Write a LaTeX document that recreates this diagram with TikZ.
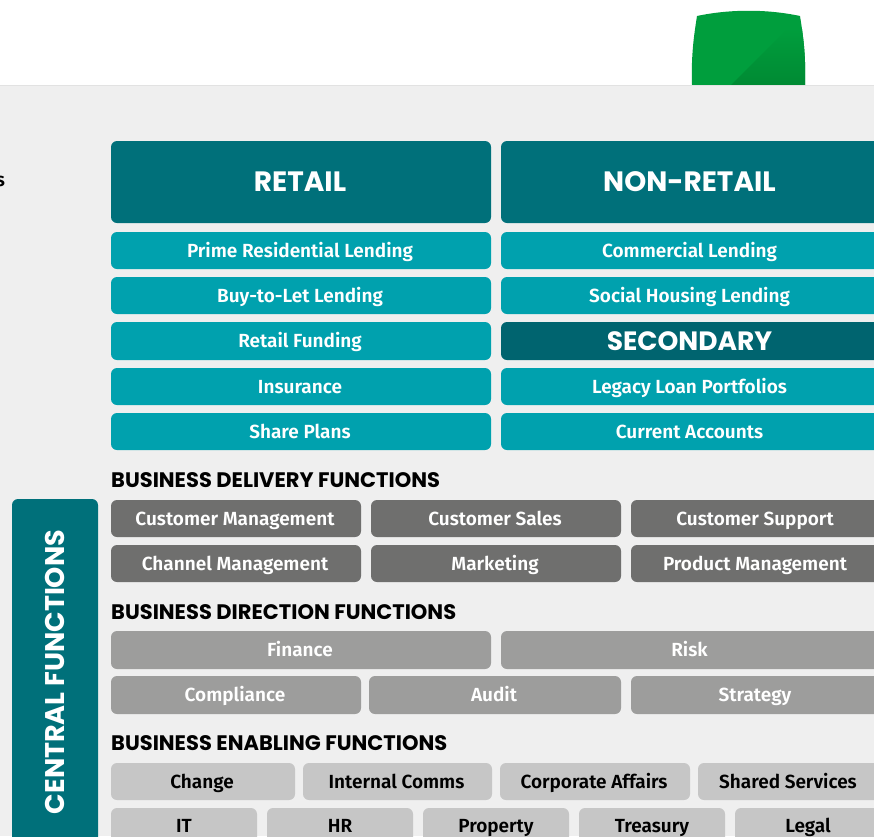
\documentclass[tikz,border=0pt]{standalone}
\usepackage{fontspec}
\setmainfont{Fira Sans}[BoldFont={Fira Sans SemiBold}]
\newfontfamily\headfont{Poppins}[BoldFont={Poppins Bold}]
\definecolor{pagebg}{HTML}{EFEFEF}
\definecolor{edgeline}{HTML}{E2E2E2}
\definecolor{tealdark}{HTML}{00707A}
\definecolor{tealmid}{HTML}{00A1AE}
\definecolor{tealsec}{HTML}{00646F}
\definecolor{greydark}{HTML}{6F6F6E}
\definecolor{greymid}{HTML}{9D9D9C}
\definecolor{greylight}{HTML}{C6C6C6}
\definecolor{leaf}{HTML}{009E3D}
\definecolor{leafdark}{HTML}{008A33}
\tikzset{
  x=1pt,y=-1pt,
  basebox/.style={rectangle,rounded corners=6pt,inner sep=0pt,draw=none,align=center,text height=14pt,text depth=1pt,font=\bfseries\fontsize{19}{19}\selectfont},
  bigbox/.style={basebox,fill=tealdark,text=white,text height=20pt,text depth=1pt,font=\headfont\bfseries\fontsize{28}{28}\selectfont},
  midbox/.style={basebox,fill=tealmid,text=white},
  secbox/.style={basebox,fill=tealsec,text=white,text height=18pt,text depth=0pt,font=\headfont\bfseries\fontsize{26.5}{26.5}\selectfont},
  deliverybox/.style={basebox,fill=greydark,text=white},
  directionbox/.style={basebox,fill=greymid,text=white},
  enablebox/.style={basebox,fill=greylight,text=black},
  enablelabel/.style={inner sep=0pt,text=black,text height=14pt,text depth=1pt,font=\bfseries\fontsize{19}{19}\selectfont},
  headlabel/.style={anchor=west,inner sep=0pt,font=\headfont\bfseries\fontsize{21}{21}\selectfont,text=black},
}
% name, x0, y0, x1, y1, style, text
\newcommand{\pbox}[7]{\node[#6,minimum width=#4pt-#2pt,minimum height=#5pt-#3pt] (#1) at ({(#2+#4)/2},{(#3+#5)/2}) {\hspace*{-2pt}#7};}
\begin{document}
\begin{tikzpicture}
\useasboundingbox (0,0) rectangle (874,836);
\clip (0,0) rectangle (874,836);
\fill[white] (0,0) rectangle (874,85);
\begin{scope}
\clip (692,85) .. controls (691,55) and (694,35) .. (697,16) .. controls (730,9) and (767,9) .. (800,16) .. controls (803,35) and (806,55) .. (805,85) -- cycle;
\fill[leaf] (685,5) rectangle (812,85);
\path[top color=leaf,bottom color=leafdark] (731,85) -- (788,28) -- (810,28) -- (810,85) -- cycle;
\end{scope}
\fill[pagebg] (0,85) rectangle (874,836);
\draw[edgeline,line width=1pt] (0,85) -- (874,85);
\node[anchor=center,inner sep=0pt,font=\bfseries\fontsize{19}{19}\selectfont] (cut) at (0.5,181) {s};

\pbox{retail}{111}{141}{491}{223}{bigbox}{RETAIL}
\pbox{nonretail}{501}{141}{880}{223}{bigbox}{NON-RETAIL}
\pbox{prime}{111}{232}{491}{269}{midbox}{Prime Residential Lending}
\pbox{commercial}{501}{232}{880}{269}{midbox}{Commercial Lending}
\pbox{btl}{111}{277}{491}{314}{midbox}{Buy-to-Let Lending}
\pbox{social}{501}{277}{880}{314}{midbox}{Social Housing Lending}
\pbox{funding}{111}{322}{491}{360}{midbox}{Retail Funding}
\pbox{secondary}{501}{322}{880}{360}{secbox}{SECONDARY}
\pbox{insurance}{111}{368}{491}{405}{midbox}{Insurance}
\pbox{legacy}{501}{368}{880}{405}{midbox}{Legacy Loan Portfolios}
\pbox{share}{111}{413}{491}{450}{midbox}{Share Plans}
\pbox{current}{501}{413}{880}{450}{midbox}{Current Accounts}

\node[headlabel] (hdelivery) at (111,480) {BUSINESS DELIVERY FUNCTIONS};
\pbox{custman}{111}{500}{361}{537}{deliverybox}{Customer Management}
\pbox{custsales}{371}{500}{621}{537}{deliverybox}{Customer Sales}
\pbox{custsup}{631}{500}{881}{537}{deliverybox}{Customer Support}
\pbox{channel}{111}{545}{361}{582}{deliverybox}{Channel Management}
\pbox{marketing}{371}{545}{621}{582}{deliverybox}{Marketing}
\pbox{product}{631}{545}{881}{582}{deliverybox}{Product Management}

\node[headlabel] (hdirection) at (111,612) {BUSINESS DIRECTION FUNCTIONS};
\pbox{finance}{111}{631}{491}{669}{directionbox}{Finance}
\pbox{risk}{501}{631}{880}{669}{directionbox}{Risk}
\pbox{compliance}{111}{676}{361}{714}{directionbox}{Compliance}
\pbox{audit}{369}{676}{621}{714}{directionbox}{Audit}
\pbox{strategy}{631}{676}{881}{714}{directionbox}{Strategy}

\node[headlabel] (henabling) at (111,743) {BUSINESS ENABLING FUNCTIONS};
\pbox{change}{111}{763}{295}{800}{enablebox}{Change}
\pbox{comms}{303}{763}{492}{800}{enablebox}{Internal Comms}
\pbox{corporate}{500}{763}{690}{800}{enablebox}{Corporate Affairs}
\pbox{shared}{698}{763}{880}{800}{enablebox}{Shared Services}
\pbox{it}{111}{808}{257}{868}{enablebox}{}
\pbox{hr}{267}{808}{413}{868}{enablebox}{}
\pbox{property}{423}{808}{569}{868}{enablebox}{}
\pbox{treasury}{579}{808}{725}{868}{enablebox}{}
\pbox{legal}{735}{808}{881}{868}{enablebox}{}
\node[enablelabel] (itlabel) at (184,826) {IT};
\node[enablelabel] (hrlabel) at (340,826) {HR};
\node[enablelabel] (propertylabel) at (496,826) {Property};
\node[enablelabel] (treasurylabel) at (652,826) {Treasury};
\node[enablelabel] (legallabel) at (808,826) {Legal};

\pbox{central}{12}{499}{98}{860}{basebox,fill=tealdark}{}
\node[rotate=90,inner sep=0pt,text=white,font=\headfont\bfseries\fontsize{27}{27}\selectfont] (centrallabel) at (55,672) {CENTRAL FUNCTIONS};
\end{tikzpicture}
\end{document}
